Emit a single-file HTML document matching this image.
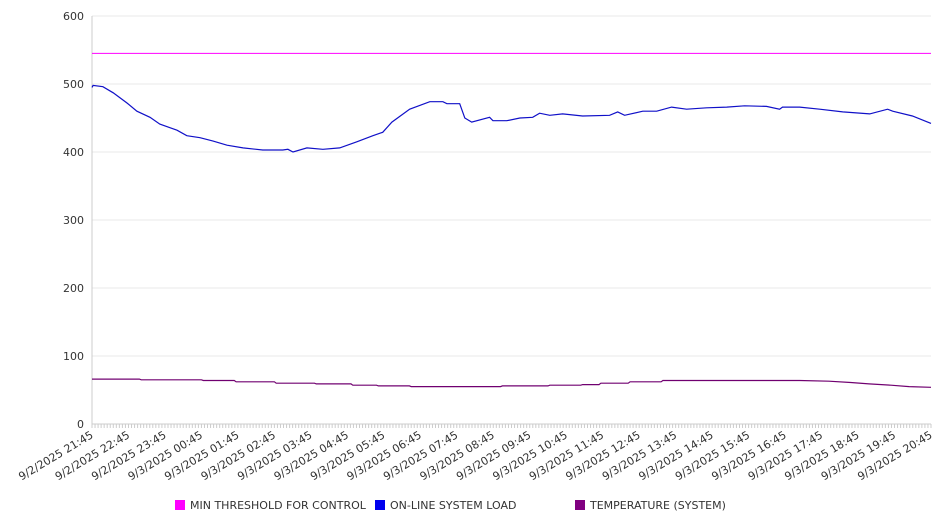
<!DOCTYPE html>
<html><head><meta charset="utf-8"><style>
body{margin:0;background:#fff;}
svg{display:block;font-family:"DejaVu Sans","Liberation Sans",sans-serif;}
</style></head><body>
<svg id="chart" width="946" height="526"></svg>
<script>
const yTicks=[0,100,200,300,400,500,600];
const xLabels=["9/2/2025 21:45","9/2/2025 22:45","9/2/2025 23:45","9/3/2025 00:45","9/3/2025 01:45","9/3/2025 02:45","9/3/2025 03:45","9/3/2025 04:45","9/3/2025 05:45","9/3/2025 06:45","9/3/2025 07:45","9/3/2025 08:45","9/3/2025 09:45","9/3/2025 10:45","9/3/2025 11:45","9/3/2025 12:45","9/3/2025 13:45","9/3/2025 14:45","9/3/2025 15:45","9/3/2025 16:45","9/3/2025 17:45","9/3/2025 18:45","9/3/2025 19:45","9/3/2025 20:45"];
const thresholdValue=545;
const loadHours=[0,0.03,0.30,0.58,0.96,1.23,1.59,1.86,2.33,2.60,2.96,3.32,3.70,4.14,4.68,5.23,5.37,5.51,5.89,6.33,6.79,7.26,7.70,7.97,8.22,8.71,9.26,9.62,9.73,10.08,10.22,10.41,10.90,10.99,11.37,11.73,12.08,12.27,12.55,12.90,13.45,14.19,14.41,14.60,15.10,15.48,15.89,16.30,16.85,17.40,17.89,18.49,18.85,18.93,19.40,19.95,20.58,21.32,21.81,21.95,22.49,22.96,23];
const loadValues=[495,498,496,487,472,460,451,441,432,424,421,416,410,406,403,403,404,400,406,404,406,415,424,429,444,463,474,474,471,471,450,444,451,446,446,450,451,457,454,456,453,454,459,454,460,460,466,463,465,466,468,467,463,466,466,463,459,456,463,460,453,443,442];
const tempHours=[0,1.3,1.35,3.0,3.05,3.9,3.95,5.0,5.05,6.1,6.15,7.1,7.15,7.8,7.85,8.7,8.75,11.2,11.25,12.5,12.55,13.4,13.45,13.9,13.95,14.7,14.75,15.6,15.65,19.4,20.2,20.8,21.3,21.9,22.4,23];
const tempValues=[66,66,65,65,64,64,62,62,60,60,59,59,57,57,56,56,55,55,56,56,57,57,58,58,60,60,62,62,64,64,63,61,59,57,55,54];
const X0=92,X1=931,Y0=424,Y1=16,HMAX=23,VMAX=600;
const xs=h=>X0+(h/HMAX)*(X1-X0);
const ys=v=>Y0-(v/VMAX)*(Y0-Y1);
const svg=document.getElementById('chart');
const NS='http://www.w3.org/2000/svg';
function mk(t,a){const e=document.createElementNS(NS,t);for(const k in a)e.setAttribute(k,a[k]);svg.appendChild(e);return e;}
yTicks.forEach(v=>{
  const g=mk('line',{x1:X0,x2:X1,y1:ys(v),y2:ys(v),stroke:v===0?'#ccc':'#e8e8e8','stroke-width':1});
  
  
  const t=mk('text',{x:84,y:ys(v)+4,'text-anchor':'end','font-size':11,fill:'#333'});
  t.textContent=v;
  
  
});
const ax=mk('line',{x1:X0,x2:X0,y1:Y1,y2:Y0+4,stroke:'#ccc'});


for(let m=0;m<=HMAX*60;m+=5){
  const tk=mk('line',{x1:xs(m/60),x2:xs(m/60),y1:Y0,y2:Y0+4,stroke:'#ccc'});
  
  
}
xLabels.forEach((l,i)=>{
  const x=xs(i)+2,y=Y0+13;
  const t=mk('text',{x:x,y:y,'text-anchor':'end','font-size':11,fill:'#333',transform:`rotate(-31 ${x} ${y})`});
  t.textContent=l;
  
  
});
const th=mk('line',{x1:X0,x2:X1,y1:ys(thresholdValue),y2:ys(thresholdValue),stroke:'#ff00ff','stroke-width':1});


function path(hs,vs){return hs.map((h,i)=>(i?'L':'M')+xs(h).toFixed(1)+','+ys(vs[i]).toFixed(1)).join('');}
const lp=mk('path',{d:path(loadHours,loadValues),fill:'none',stroke:'#1010c8','stroke-width':1.2});


const tp=mk('path',{d:path(tempHours,tempValues),fill:'none',stroke:'#700070','stroke-width':1.2});


const leg=[["MIN THRESHOLD FOR CONTROL","#ff00ff",175],["ON-LINE SYSTEM LOAD","#0000ee",375],["TEMPERATURE (SYSTEM)","#800080",575]];
leg.forEach(([n,c,x])=>{
  const r=mk('rect',{x:x,y:500,width:10,height:10,fill:c});
  
  
  const t=mk('text',{x:x+15,y:509,'font-size':11,fill:'#333'});
  t.textContent=n;
  
  
});
</script>
</body></html>
